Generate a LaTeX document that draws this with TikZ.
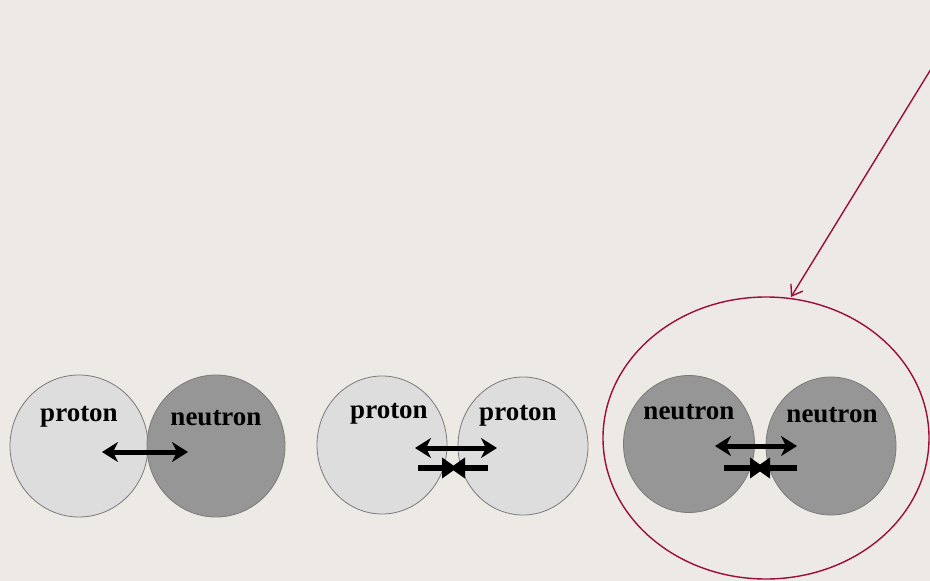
\documentclass[tikz,border=0pt]{standalone}
\usepackage{fontspec}
\setmainfont{Liberation Serif}
\usetikzlibrary{arrows.meta,shapes.geometric}
\definecolor{bgc}{HTML}{EDEAE5}
\definecolor{lightp}{HTML}{DDDDDD}
\definecolor{darkn}{HTML}{969696}
\definecolor{rimc}{HTML}{7A7A7A}
\definecolor{crim}{HTML}{9B0E3C}
\begin{document}
\begin{tikzpicture}[x=1pt,y=-1pt,
  nucl/.style={ellipse,draw=rimc,line width=0.8pt,inner sep=0pt},
  lbl/.style={font=\fontsize{27}{27}\selectfont\bfseries,inner sep=0pt},
  dbl/.style={line width=5pt,{Stealth[length=16pt,width=20pt,inset=5pt]}-{Stealth[length=16pt,width=20pt,inset=5pt]}},
  conv/.style={line width=6pt,-{Triangle[length=15pt,width=20pt]}},
  ring/.style={ellipse,draw=crim,line width=1.4pt,inner sep=0pt}]
\fill[bgc] (0,0) rectangle (930,581);
\useasboundingbox (0,0) rectangle (930,581);
% pair 1
\node[nucl,fill=lightp,minimum width=138pt,minimum height=142pt] (p1) at (79,446) {};
\node[nucl,fill=darkn,minimum width=138pt,minimum height=142pt] (n1) at (216,446) {};
\node[lbl] (tp1) at (79,417) {proton};
\node[lbl] (tn1) at (216,418) {neutron};
\coordinate (a1l) at (102,452);
\coordinate (a1r) at (188,452);
\draw[dbl] (a1l) -- (a1r);
% pair 2
\node[nucl,fill=lightp,minimum width=130pt,minimum height=138pt] (p2) at (382,445) {};
\node[nucl,fill=lightp,minimum width=130pt,minimum height=138pt] (p3) at (523,446) {};
\node[lbl] (tp2) at (389,414) {proton};
\node[lbl] (tp3) at (518,416) {proton};
\coordinate (a2l) at (415,448);
\coordinate (a2r) at (497,448);
\draw[dbl] (a2l) -- (a2r);
\coordinate (b2l) at (418,468);
\coordinate (b2ml) at (457,468);
\coordinate (b2mr) at (450,468);
\coordinate (b2r) at (488,468);
\draw[conv] (b2l) -- (b2ml);
\draw[conv] (b2r) -- (b2mr);
% pair 3
\node[nucl,fill=darkn,minimum width=131pt,minimum height=137pt] (n2) at (689,444) {};
\node[nucl,fill=darkn,minimum width=130pt,minimum height=138pt] (n3) at (831,446) {};
\node[lbl] (tn2) at (689,412) {neutron};
\node[lbl] (tn3) at (832,415) {neutron};
\coordinate (a3l) at (715,446);
\coordinate (a3r) at (797,446);
\draw[dbl] (a3l) -- (a3r);
\coordinate (b3l) at (724,468);
\coordinate (b3ml) at (765,468);
\coordinate (b3mr) at (755,468);
\coordinate (b3r) at (797,468);
\draw[conv] (b3l) -- (b3ml);
\draw[conv] (b3r) -- (b3mr);
% highlight ring and pointer
\node[ring,minimum width=326pt,minimum height=282pt] (ring) at (766,438) {};
\coordinate (ptr) at (931,69);
\coordinate (tip) at (791,297);
\draw[crim,line width=1.4pt,-{Straight Barb[length=10pt,width=14pt,line width=1.4pt]}] (ptr) -- (tip);
\end{tikzpicture}
\end{document}
